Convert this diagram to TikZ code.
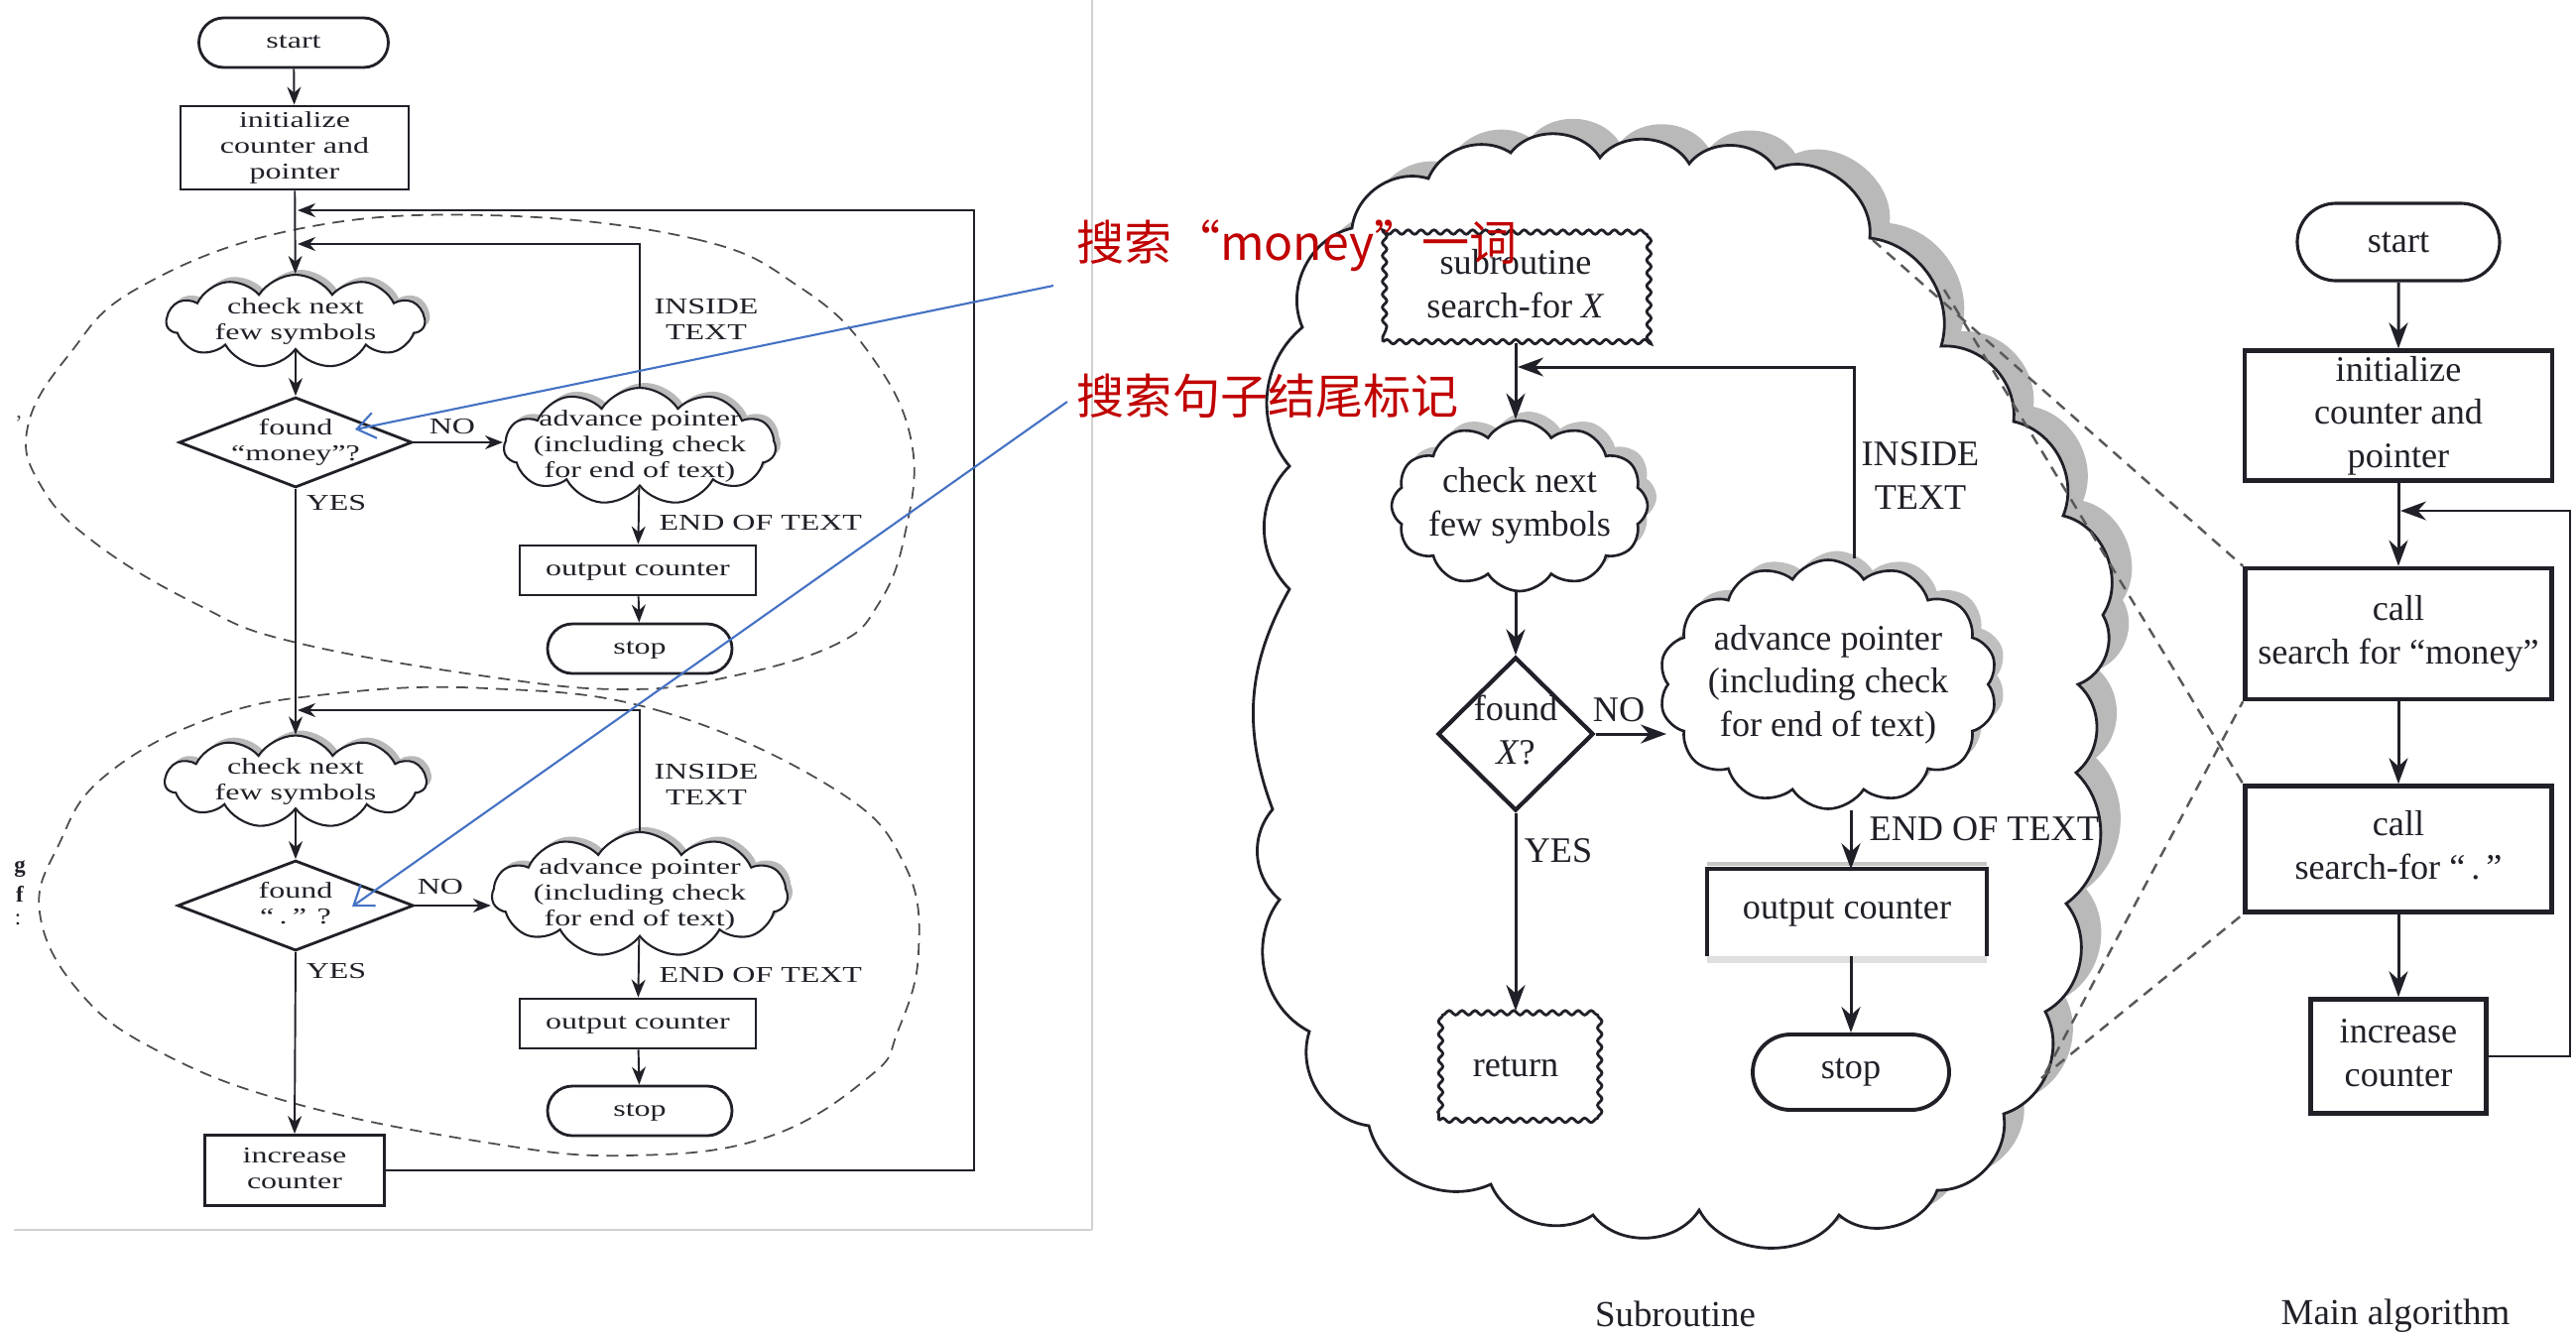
\documentclass[tikz,border=0pt]{standalone}
\usepackage{fontspec}
\setmainfont{Liberation Serif}
\newfontfamily\cjkfont{Noto Sans CJK SC}
\usepackage{graphicx}
\usetikzlibrary{shapes.geometric,shapes.symbols,shapes.misc,arrows.meta,decorations.pathmorphing,shadows}
\definecolor{ink}{HTML}{202028}
\definecolor{annored}{RGB}{192,0,0}
\definecolor{annoblue}{RGB}{68,114,196}
\newcommand{\lfont}{\fontsize{6.5}{7.4}\selectfont}
\newcommand{\rfont}{\fontsize{10.3}{12.4}\selectfont}
\newcommand{\ls}[1]{\scalebox{1.4}[1]{\begin{tabular}{@{}c@{}}#1\end{tabular}}}
\newcommand{\rs}[1]{\begin{tabular}{@{}c@{}}#1\end{tabular}}
\newcommand{\bigcloud}[1]{\path[#1] (1320,1040) to[bend left=50] (1290,907) to[bend left=45] (1283,816) to[bend left=25] (1300,594) to[bend left=45] (1300,470) to[bend left=45] (1313,330) to[bend left=50] (1363,230) to[bend left=50] (1440,180) to[bend left=50] (1523,154) to[bend left=55] (1613,159) to[bend left=55] (1703,165) to[bend left=55] (1790,170) to[bend left=60] (1885,240) to[bend left=50] (1957,349) to[bend left=50] (2030,425) to[bend left=50] (2080,520) to[bend left=55] (2120,620) to[bend left=50] (2095,690) to[bend left=50] (2093,779) to[bend left=50] (2083,911) to[bend left=50] (2062,1020) to[bend left=50] (2020,1123) to[bend left=50] (1953,1200) to[bend left=55] (1854,1225) to[bend left=60] (1713,1220) to[bend left=55] (1606,1225) to[bend left=50] (1503,1194) to[bend left=50] (1380,1135) to[bend left=50] (1320,1040) -- cycle;}
\begin{document}
\begin{tikzpicture}[x=0.1mm,y=-0.1mm,
  lt/.style={font=\lfont, text=ink, inner sep=0pt},
  rt/.style={font=\rfont, text=ink, inner sep=0pt},
  lbox/.style={draw=ink, line width=0.8pt, fill=white, inner sep=0pt, font=\lfont, text=ink},
  lstad/.style={rounded rectangle, draw=ink, line width=0.8pt, fill=white, inner sep=0pt, font=\lfont, text=ink},
  lcloud/.style={cloud, cloud ignores aspect, cloud puffs=11, cloud puff arc=115, draw=ink, line width=0.6pt, fill=white, inner sep=0pt,
     drop shadow={shadow xshift=0.5mm, shadow yshift=0.5mm, fill=gray!55, opacity=1}},
  ldiam/.style={diamond, draw=ink, line width=0.8pt, fill=white, inner sep=0pt},
  la/.style={draw=ink, line width=0.55pt, -{Stealth[length=1.8mm,width=1.4mm]}},
  lline/.style={draw=ink, line width=0.55pt},
  blob/.style={draw=black!70, line width=0.5pt, dash pattern=on 1.2mm off 0.8mm},
  rcloud/.style={cloud, cloud ignores aspect, cloud puffs=12, cloud puff arc=115, draw=ink, line width=0.75pt, fill=white, inner sep=0pt,
     drop shadow={shadow xshift=0.9mm, shadow yshift=0.9mm, fill=gray!50, opacity=1}},
  wavy/.style={draw=ink, line width=0.8pt, fill=white, inner sep=0pt, font=\rfont, text=ink, decorate, decoration={snake, segment length=1.3mm, amplitude=0.22mm}},
  rbox/.style={draw=ink, line width=1.1pt, fill=white, inner sep=0pt, font=\rfont, text=ink},
  ra/.style={draw=ink, line width=0.85pt, -{Stealth[length=2.6mm,width=1.9mm]}},
  mbox/.style={draw=ink, line width=1.3pt, fill=white, inner sep=0pt, font=\rfont, text=ink},
  zl/.style={draw=black!65, line width=0.7pt, dash pattern=on 1.1mm off 0.8mm},
  anno/.style={draw=annoblue, line width=0.6pt, -{Straight Barb[length=1.8mm,width=2.6mm]}},
  redtxt/.style={text=annored, font=\cjkfont\fontsize{13.7}{16}\selectfont, inner sep=0pt, anchor=base west}
]
\useasboundingbox (0,0) rectangle (2597,1346);

% ---------------- left panel frame ----------------
\draw[black!18, line width=0.5pt] (14,1240) -- (1101,1240);
\draw[black!18, line width=0.5pt] (1101,0) -- (1101,1240);
\node[lt, text=ink!80] (frag0) at (19,427) {'};
\node[lt, font=\bfseries\lfont] (frag1) at (20,876) {g};
\node[lt, font=\bfseries\lfont] (frag2) at (20,901) {f};
\node[lt] (frag3) at (18,927) {:};

% ---------------- left: dashed blobs ----------------
\draw[blob] plot[smooth cycle, tension=0.7] coordinates {(491,217) (701,241) (807,290) (877,357) (919,446) (912,540) (885,610) (842,650) (737,682) (631,695) (491,682) (295,647) (200,610) (98,549) (42,491) (28,430) (70,357) (140,290) (295,232)};
\draw[blob] plot[smooth cycle, tension=0.7] coordinates {(491,694) (666,717) (842,796) (912,872) (926,961) (905,1040) (877,1085) (772,1147) (631,1165) (491,1152) (295,1112) (160,1060) (80,1000) (40,920) (60,850) (105,783) (210,725) (330,700)};

% ---------------- left: upper flowchart ----------------
\node[lstad, minimum width=19.1mm, minimum height=5mm] (S1) at (296,43) {\ls{start}};
\node[lbox, minimum width=23mm, minimum height=8.4mm] (I1) at (297,149) {\ls{initialize\\counter and\\pointer}};
\coordinate (J1) at (300,212);
\coordinate (J2) at (300,246);
\node[lcloud, minimum width=26mm, minimum height=9.4mm, label={[lt]center:{\ls{check next\\few symbols}}}] (C1) at (298,324) {};
\node[ldiam, minimum width=23.5mm, minimum height=9.1mm, label={[lt]center:{\ls{found\\“money”?}}}] (D1) at (298,446) {};
\node[lcloud, minimum width=27.4mm, minimum height=11.8mm, label={[lt]center:{\ls{advance pointer\\(including check\\for end of text)}}}] (A1) at (645,450) {};
\node[lbox, minimum width=23.8mm, minimum height=5mm] (O1) at (643,575) {\ls{output counter}};
\node[lstad, minimum width=18.6mm, minimum height=5mm] (T1) at (645,654) {\ls{stop}};

\node[lt] (no1) at (456,432) {\ls{NO}};
\node[lt] (yes1) at (339,509) {\ls{YES}};
\node[lt] (it1) at (712,324) {\ls{INSIDE\\TEXT}};
\node[lt, anchor=west] (eot1) at (664,529) {\ls{END OF TEXT}};

% ---------------- left: lower flowchart ----------------
\coordinate (J3) at (300,716);
\node[lcloud, minimum width=26.3mm, minimum height=9.3mm, label={[lt]center:{\ls{check next\\few symbols}}}] (C2) at (298,788) {};
\node[ldiam, minimum width=23.8mm, minimum height=9.1mm, label={[lt]center:{\ls{found\\“\,.\,” ?}}}] (D2) at (298,913) {};
\node[lcloud, minimum width=29.8mm, minimum height=12.6mm, label={[lt]center:{\ls{advance pointer\\(including check\\for end of text)}}}] (A2) at (645,902) {};
\node[lbox, minimum width=23.8mm, minimum height=5mm] (O2) at (643,1032) {\ls{output counter}};
\node[lstad, minimum width=18.6mm, minimum height=5mm] (T2) at (645,1120) {\ls{stop}};
\node[lbox, minimum width=18.1mm, minimum height=7.1mm] (Inc) at (297,1180) {\ls{increase\\counter}};
\coordinate (cR) at (982,212);

\node[lt] (no2) at (444,896) {\ls{NO}};
\node[lt] (yes2) at (339,981) {\ls{YES}};
\node[lt] (it2) at (712,793) {\ls{INSIDE\\TEXT}};
\node[lt, anchor=west] (eot2) at (664,985) {\ls{END OF TEXT}};

% left connectors
\draw[la] (S1) -- (I1);
\draw[la] (I1) -- (C1);
\draw[la] (Inc.east) -| (cR) -- (J1);
\draw[la] (A1.north) |- (J2);
\draw[la] (C1) -- (D1);
\draw[la] (D1.east) -- (A1.west |- D1.east);
\draw[la] (A1) -- (O1);
\draw[la] (O1) -- (T1);
\draw[la] (D1.south) -- (C2.north);
\draw[la] (A2.north) |- (J3);
\draw[la] (C2) -- (D2);
\draw[la] (D2.east) -- (A2.west |- D2.east);
\draw[la] (A2) -- (O2);
\draw[la] (O2) -- (T2);
\draw[la] (D2.south) -- (Inc.north);

% ---------------- right: subroutine cloud ----------------
\begin{scope}[xshift=2mm, yshift=1.5mm]
\bigcloud{fill=gray!55}
\end{scope}
\bigcloud{draw=ink, line width=0.8pt, fill=white}

\node[wavy, minimum width=26.8mm, minimum height=10.9mm] (Sb) at (1528,290) {\rs{subroutine\\search-for \textit{X}}};
\coordinate (Sj) at (1530,370);
\node[rcloud, minimum width=25.8mm, minimum height=17.2mm, label={[rt]center:{\rs{check next\\few symbols}}}] (Sc) at (1532,510) {};
\node[diamond, draw=ink, line width=1.2pt, fill=white, inner sep=0pt, minimum width=15.7mm, minimum height=15.5mm, label={[rt]center:{\rs{found\\\textit{X}?}}}] (Sd) at (1528,740) {};
\node[rcloud, cloud puffs=14, minimum width=34.1mm, minimum height=25.1mm, label={[rt]center:{\rs{advance pointer\\(including check\\for end of text)}}}] (Sa) at (1843,690) {};
\node[inner sep=0pt, minimum width=28.1mm, minimum height=8.6mm, font=\rfont, text=ink] (So) at (1862,920) {output counter};
\draw[gray!45, line width=1pt] ([yshift=0.55mm]So.north west) -- ([yshift=0.55mm]So.north east);
\draw[gray!25, line width=2pt] ([yshift=-0.4mm]So.south west) -- ([yshift=-0.4mm]So.south east);
\draw[ink, line width=1.2pt] (So.south west) -- (So.north west) -- (So.north east) -- (So.south east);
\node[rounded rectangle, draw=ink, line width=1.1pt, fill=white, inner sep=0pt, minimum width=19.8mm, minimum height=7.6mm, font=\rfont, text=ink] (St) at (1866,1081) {stop};
\node[wavy, minimum width=15.5mm, minimum height=10.9mm] (Sr) at (1528,1075) {return};

\node[rt] (sno) at (1632,716) {NO};
\node[rt] (syes) at (1571,858) {YES};
\node[rt] (sit) at (1936,483) {\rs{INSIDE\\TEXT}};
\node[rt, anchor=west] (seot) at (1884,836) {END OF TEXT};

\draw[ra] (Sb.south) -- (Sb.south |- Sc.north);
\draw[ra] ([xshift=2.6mm]Sa.north) |- (Sj);
\draw[ra] (Sc.south -| Sd.north) -- (Sd.north);
\draw[ra] (Sd.east) -- (Sd.east -| Sa.west);
\draw[ra] (Sa.south -| St.north) -- (So.north -| St.north);
\draw[ra] (So.south -| St.north) -- (St.north);
\draw[ra] (Sd.south) -- (Sr.north);

% ---------------- main algorithm ----------------
\node[rounded rectangle, draw=ink, line width=0.9pt, fill=white, inner sep=0pt, minimum width=20.4mm, minimum height=7.8mm, font=\rfont, text=ink] (Ms) at (2418,244) {start};
\node[mbox, minimum width=31mm, minimum height=13mm] (Mi) at (2418,419) {\rs{initialize\\counter and\\pointer}};
\coordinate (Mj) at (2420,515);
\node[mbox, minimum width=30.9mm, minimum height=13.2mm] (Mm) at (2418,639) {\rs{call\\search for “money”}};
\node[mbox, minimum width=30.9mm, minimum height=12.7mm] (Md) at (2418,856) {\rs{call\\search-for “\,.\,”}};
\node[mbox, minimum width=17.7mm, minimum height=11.5mm] (Mc) at (2418,1065) {\rs{increase\\counter}};
\coordinate (mR) at (2591,515);

\draw[ra] (Ms) -- (Mi);
\draw[ra] (Mi) -- (Mm);
\draw[ra] (Mm) -- (Md);
\draw[ra] (Md) -- (Mc);
\draw[ra, line width=0.6pt] (Mc.east) -| (mR) -- (Mj);

% zoom lines from subroutine cloud to the call boxes
\coordinate (zA) at (1888,242);
\coordinate (zB) at (1960,292);
\coordinate (zC) at (2062,1082);
\coordinate (zD) at (2058,1087);
\draw[zl] (zA) -- (Mm.north west);
\draw[zl] (zB) -- (Md.north west);
\draw[zl] (zC) -- (Mm.south west);
\draw[zl] (zD) -- (Md.south west);

\node[font=\fontsize{10.5}{12}\selectfont, text=ink, inner sep=0pt] (lsub) at (1689,1325) {Subroutine};
\node[font=\fontsize{10.5}{12}\selectfont, text=ink, inner sep=0pt] (lmain) at (2415,1327) {Main algorithm};

% ---------------- annotations ----------------
\node[redtxt] (r1) at (1085,262) {搜索“money”一词};
\node[redtxt] (r2) at (1085,417) {搜索句子结尾标记};
\coordinate (b1s) at (1062,288);
\coordinate (b1e) at (358,433);
\coordinate (b2s) at (1076,405);
\coordinate (b2e) at (355,914);
\draw[anno] (b1s) -- (b1e);
\draw[anno] (b2s) -- (b2e);
\end{tikzpicture}
\end{document}
